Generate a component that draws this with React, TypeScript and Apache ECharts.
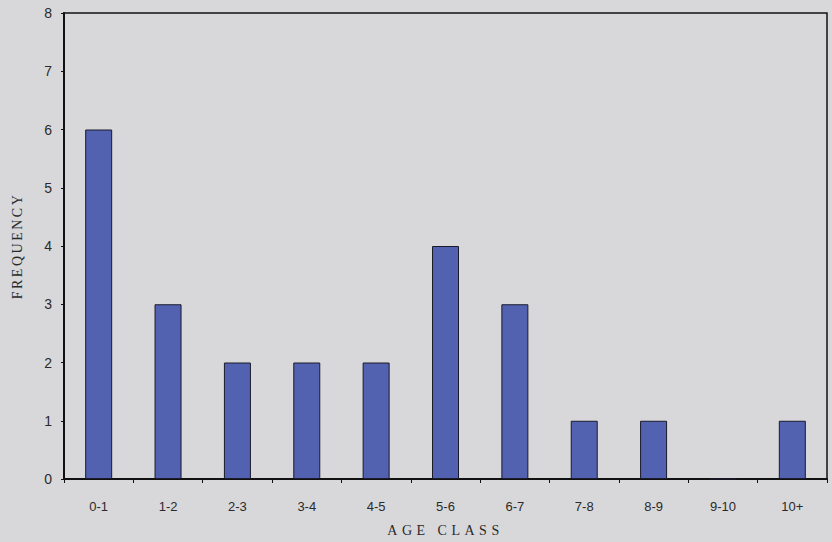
import React, { useEffect, useRef } from "react";
import * as echarts from "echarts";

const categories = ["0-1", "1-2", "2-3", "3-4", "4-5", "5-6", "6-7", "7-8", "8-9", "9-10", "10+"];
const frequencies = [6, 3, 2, 2, 2, 4, 3, 1, 1, 0, 1];
const yTicks = [0, 1, 2, 3, 4, 5, 6, 7, 8];

export default function App() {
  const ref = useRef<HTMLDivElement>(null);
  useEffect(() => {
    if (!ref.current) return;
    const chart = echarts.init(ref.current, null, { renderer: "svg" });
    chart.setOption({
      animation: false,
      backgroundColor: "#d8d8da",
      grid: { left: 64, right: 5, top: 13, bottom: 62, show: true, borderColor: "#111", borderWidth: 1.5, backgroundColor: "transparent" },
      xAxis: {
        type: "category",
        data: categories,
        name: "AGE CLASS",
        nameLocation: "middle",
        nameGap: 44,
        nameTextStyle: { fontFamily: "Liberation Serif", fontSize: 14, color: "#2a2a2a" },
        axisLine: { lineStyle: { color: "#111", width: 2 } },
        axisTick: { show: true, length: 4, lineStyle: { color: "#111" } },
        axisLabel: { fontFamily: "Liberation Sans", fontSize: 13, color: "#2a2a2a", margin: 21 },
      },
      yAxis: {
        type: "value",
        min: yTicks[0],
        max: yTicks[yTicks.length - 1],
        interval: 1,
        name: "FREQUENCY",
        nameLocation: "middle",
        nameGap: 40,
        nameTextStyle: { fontFamily: "Liberation Serif", fontSize: 14, color: "#2a2a2a" },
        axisLine: { show: true, lineStyle: { color: "#111", width: 2 } },
        axisTick: { show: true, length: 3, lineStyle: { color: "#111" } },
        splitLine: { show: false },
        axisLabel: { fontFamily: "Liberation Sans", fontSize: 14, color: "#2a2a2a", margin: 12 },
      },
      series: [
        {
          type: "bar",
          data: frequencies,
          barWidth: 27,
          itemStyle: { color: "#5262b0", borderColor: "#1a1a2a", borderWidth: 1 },
        },
      ],
    });
    const svg = ref.current.querySelector("svg");
    if (svg) {
      svg.querySelectorAll("text").forEach((t) => {
        if (t.textContent === "AGE CLASS" || t.textContent === "FREQUENCY") {
          (t as SVGTextElement).style.letterSpacing = t.textContent === "AGE CLASS" ? "4.5px" : "2.5px";
        }
      });
    }
    return () => chart.dispose();
  }, []);
  return <div ref={ref} style={{ width: 832, height: 542, position: "absolute", left: 0, top: 0 }} />;
}
